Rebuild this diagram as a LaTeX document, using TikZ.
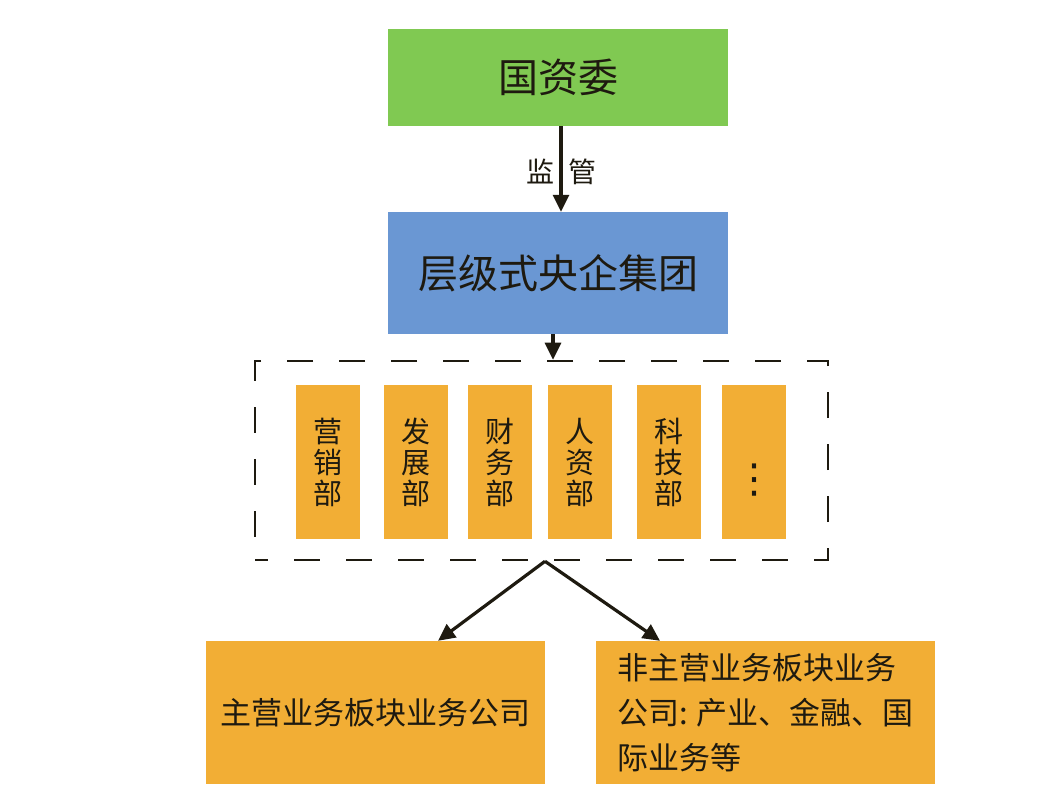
\documentclass[tikz,border=0pt]{standalone}
\usepackage{fontspec}
\newfontfamily\cjk{Noto Sans CJK SC}
\newfontfamily\dejavu{DejaVu Sans}
\usetikzlibrary{arrows.meta}
\definecolor{gGreen}{RGB}{128,201,82}
\definecolor{gBlue}{RGB}{106,151,211}
\definecolor{gOrange}{RGB}{242,174,53}
\definecolor{gInk}{RGB}{30,26,16}
\tikzset{
  boxbase/.style={rectangle, inner sep=0pt, text=gInk},
  topbox/.style={boxbase, fill=gGreen, minimum width=340pt, minimum height=97pt, font=\cjk\fontsize{40}{48}\selectfont},
  midbox/.style={boxbase, fill=gBlue, minimum width=340pt, minimum height=122pt, font=\cjk\fontsize{40}{48}\selectfont},
  deptbox/.style={boxbase, fill=gOrange, minimum width=64pt, minimum height=154pt, align=center, font=\cjk\fontsize{29}{31}\selectfont},
  subbox/.style={boxbase, fill=gOrange, minimum width=339pt, minimum height=143pt, font=\cjk\fontsize{31}{45}\selectfont},
  groupbox/.style={rectangle, draw=gInk, line width=2.6pt, dash pattern=on 26pt off 26pt, dash phase=13pt, minimum width=573pt, minimum height=199pt, inner sep=0pt},
  conn/.style={draw=gInk, line width=3.2pt, -{Triangle[length=17pt,width=16pt]}},
  lbl/.style={text=gInk, inner sep=0pt, font=\cjk\fontsize{28}{30}\selectfont},
  dotslbl/.style={text=gInk, inner sep=0pt, font=\dejavu\fontsize{40}{48}\selectfont}
}
\begin{document}
\begin{tikzpicture}[x=1pt,y=-1pt]
\useasboundingbox[fill=white] (0,0) rectangle (1061,801);
\node[topbox] (sasac) at (558,77.5) {国资委};
\node[midbox] (grp0) at (558,273) {层级式央企集团};
\node[groupbox] (grp) at (541.5,460.5) {};
\node[deptbox] (d1) at (328,462) {营\\销\\部};
\node[deptbox] (d2) at (416,462) {发\\展\\部};
\node[deptbox] (d3) at (500,462) {财\\务\\部};
\node[deptbox] (d4) at (580,462) {人\\资\\部};
\node[deptbox] (d5) at (669,462) {科\\技\\部};
\node[deptbox] (d6) at (754,462) {};
\node[dotslbl] (d6t) at (754,480) {⋮};
\node[subbox] (main) at (375.5,712.5) {主营业务板块业务公司};
\node[subbox, align=left] (other) at (765.5,712.5) {非主营业务板块业务\\公司:\hspace{8pt}产业、金融、国\\际业务等};
\draw[conn] ([xshift=3pt]sasac.south) -- ([xshift=3pt]grp0.north);
\node[lbl] (sup) at (561.5,172) {监\hspace{15pt}管};
\draw[conn] ([xshift=-5pt]grp0.south) -- ([xshift=11.5pt]grp.north);
\draw[conn] ([xshift=3.5pt]grp.south) -- ([xshift=62.5pt]main.north);
\draw[conn] ([xshift=3.5pt]grp.south) -- ([xshift=-105.5pt]other.north);
\end{tikzpicture}
\end{document}
